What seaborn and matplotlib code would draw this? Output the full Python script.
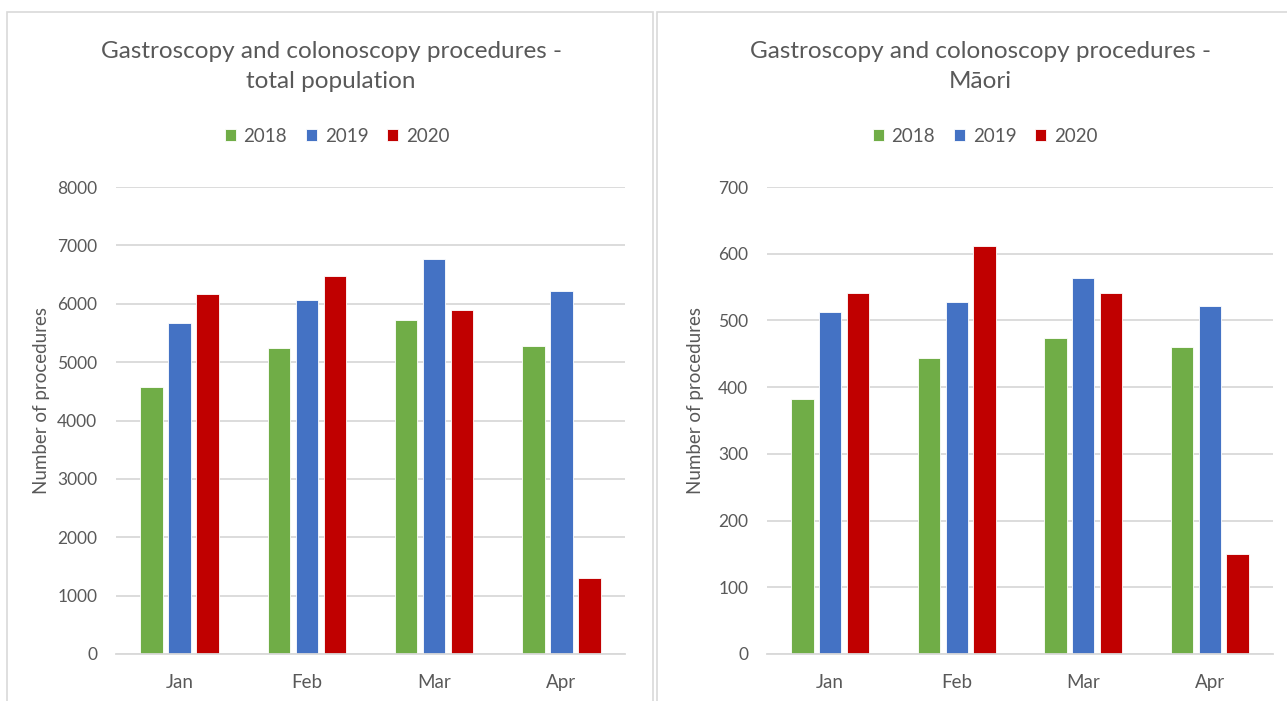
import matplotlib
matplotlib.use("Agg")
import matplotlib.pyplot as plt
from matplotlib.patches import Rectangle
import seaborn as sns
import pandas as pd

months = ["Jan", "Feb", "Mar", "Apr"]
years = ["2018", "2019", "2020"]
total_2018 = [4580, 5250, 5720, 5275]
total_2019 = [5670, 6060, 6770, 6220]
total_2020 = [6160, 6475, 5895, 1300]
maori_2018 = [382, 444, 474, 460]
maori_2019 = [513, 527, 563, 521]
maori_2020 = [541, 612, 541, 150]
total_ticks = [0, 1000, 2000, 3000, 4000, 5000, 6000, 7000, 8000]
maori_ticks = [0, 100, 200, 300, 400, 500, 600, 700]
titles = ["Gastroscopy and colonoscopy procedures -\ntotal population",
          "Gastroscopy and colonoscopy procedures -\nMāori"]
ylabel = "Number of procedures"

colors = {"2018": "#70AD47", "2019": "#4472C4", "2020": "#C00000"}
TXT = "#595959"


def long_df(a, b, c):
    rows = []
    for y, vals in zip(years, [a, b, c]):
        for m, v in zip(months, vals):
            rows.append({"Month": m, "Year": y, "Value": v})
    return pd.DataFrame(rows)


sns.set_theme(style="white")
plt.rcParams["font.family"] = ["Lato", "DejaVu Sans"]

W, H = 1287, 701
fig = plt.figure(figsize=(W / 100, H / 100), dpi=100)

# panel frames
for x0, x1 in [(7, 653), (657, 1290)]:
    fig.patches.append(Rectangle((x0 / W, -0.01), (x1 - x0) / W, (H - 12) / H + 0.01,
                                 transform=fig.transFigure, fill=False,
                                 edgecolor="#D9D9D9", linewidth=1.2))

panels = [
    dict(df=long_df(total_2018, total_2019, total_2020), ticks=total_ticks,
         left=116, right=625, title=titles[0], tcx=331, lcx=337, ylx=50),
    dict(df=long_df(maori_2018, maori_2019, maori_2020), ticks=maori_ticks,
         left=767, right=1273, title=titles[1], tcx=980, lcx=985, ylx=704),
]

for p in panels:
    ax = fig.add_axes([p["left"] / W, (H - 654) / H, (p["right"] - p["left"]) / W, (654 - 187) / H])
    sns.barplot(data=p["df"], x="Month", y="Value", hue="Year", order=months,
                hue_order=years, palette=colors, width=0.66, gap=0.2,
                saturation=1, edgecolor="white", linewidth=0.6, ax=ax)
    ax.set_ylim(p["ticks"][0], p["ticks"][-1])
    ax.set_yticks(p["ticks"])
    ax.set_yticklabels([str(t) for t in p["ticks"]])
    ax.yaxis.grid(True, color="#D9D9D9", linewidth=1.3)
    ax.set_axisbelow(True)
    for s in ["top", "right", "left"]:
        ax.spines[s].set_visible(False)
    ax.spines["bottom"].set_color("#D9D9D9")
    ax.spines["bottom"].set_linewidth(1.3)
    ax.tick_params(axis="both", length=0, colors=TXT)
    ax.tick_params(axis="y", pad=13.5, labelsize=12.5)
    ax.tick_params(axis="x", pad=14.5, labelsize=13.5)
    ax.set_xlabel("")
    ax.set_ylabel(ylabel, fontsize=13.5, color=TXT)
    ax.yaxis.set_label_coords((p["ylx"] - p["left"]) / (p["right"] - p["left"]),
                              (654 - 400) / (654 - 187))
    handles, labels = ax.get_legend_handles_labels()
    ax.get_legend().remove()
    fig.legend(handles, labels, loc="center", ncol=3,
               bbox_to_anchor=(p["lcx"] / W, 1 - 136 / H), frameon=False,
               fontsize=13.5, labelcolor=TXT, handlelength=0.6, handleheight=0.6,
               handletextpad=0.4, columnspacing=1.0)
    fig.text(p["tcx"] / W, 1 - 66.5 / H, p["title"], ha="center", va="center",
             fontsize=17.5, color=TXT, linespacing=1.55)

fig.savefig("out.png", dpi=100)
